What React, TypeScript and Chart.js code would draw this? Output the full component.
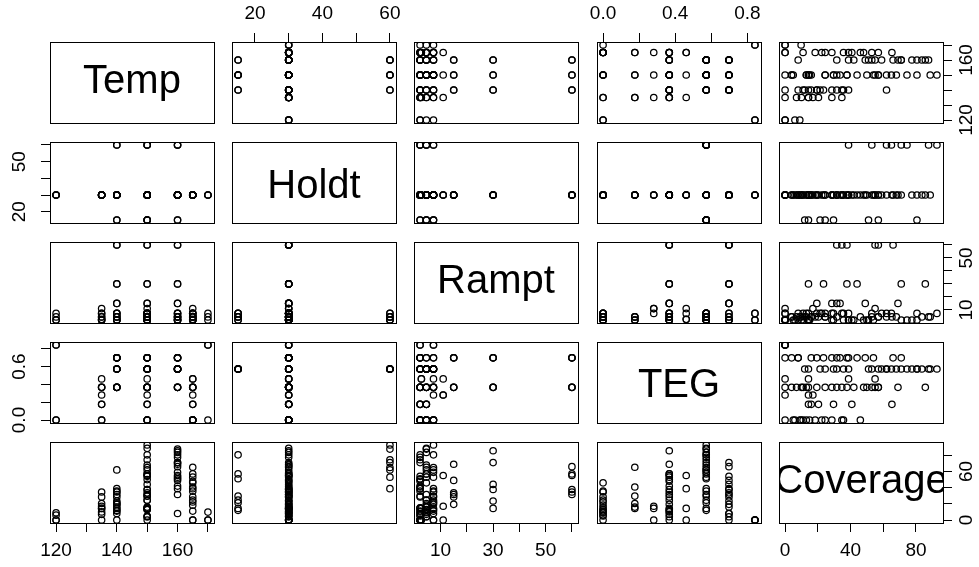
import React, { useEffect, useRef } from 'react';
import { Chart, registerables } from 'chart.js';

Chart.register(...registerables);

// ---------------- data ----------------
const variableNames = ['Temp', 'Holdt', 'Rampt', 'TEG', 'Coverage'];

const temp = [
  140, 140, 150, 150, 160, 160, 140, 140, 150, 150, 160, 160, 140, 140, 150, 150, 160, 160,
  165, 135, 150,
  140, 150, 140, 150, 150, 160, 150, 160,
  140, 160, 140, 150, 160, 150, 160, 150,
  160, 140, 160, 150, 160, 160, 150,
  150, 150, 160, 140, 140, 150, 160, 140,
  140, 135, 135, 150, 150, 165, 135, 160, 165, 165, 140,
  135, 165, 165,
  150,
  135, 150, 135, 150, 165, 165,
  120, 120, 170, 135, 135, 165, 165, 165, 165, 165, 150, 150, 150, 150, 165,
  165,
  120, 120, 170, 170,
  150, 150, 150,
];

const holdt = [
  30, 30, 30, 30, 30, 30, 30, 30, 30, 30, 30, 30, 30, 30, 30, 30, 30, 30,
  30, 30, 30,
  15, 15, 15, 15, 15, 15, 15, 15,
  60, 60, 60, 60, 60, 60, 60, 60,
  30, 30, 30, 30, 30, 30, 30,
  30, 30, 30, 30, 30, 30, 30, 30,
  30, 30, 30, 30, 30, 30, 30, 30, 30, 30, 30,
  30, 30, 30,
  30,
  30, 30, 30, 30, 30, 30,
  30, 30, 30, 30, 30, 30, 30, 30, 30, 30, 30, 30, 30, 30, 30,
  30,
  30, 30, 30, 30,
  30, 30, 30,
];

const rampt = [
  60, 60, 60, 60, 60, 60, 30, 30, 30, 30, 30, 30, 15, 15, 15, 15, 15, 15,
  11, 11, 11,
  4.6, 2.2, 7.3, 4.6, 7.3, 2.2, 4.6, 7.3,
  2.2, 4.6, 4.6, 7.3, 2.2, 2.2, 4.6, 7.3,
  4.6, 2.2, 7.3, 4.6, 2.2, 4.6, 7.3,
  2.2, 4.6, 7.3, 4.6, 7.3, 2.2, 2.2, 2.2,
  2.2, 4.6, 2.2, 7.3, 4.6, 4.6, 7.3, 2.2, 2.2, 7.3, 7.3,
  2.7, 7.3, 2.7,
  7.3,
  2.2, 4.6, 4.6, 2.2, 2.2, 4.6,
  2.2, 4.6, 4.6, 2.2, 7.3, 2.2, 4.6, 7.3, 2.2, 4.6, 2.2, 4.6, 7.3, 2.2, 7.3,
  4.6,
  2.2, 7.3, 2.2, 7.3,
  2.2, 4.6, 2.2,
];

const teg = [
  0.698, 0.367, 0.698, 0.367, 0.367, 0.698, 0.367, 0.698, 0.367, 0.698, 0.698, 0.367,
  0.367, 0.698, 0.367, 0.698, 0.698, 0.367,
  0.281, 0.281, 0.461,
  0.572, 0.572, 0.572, 0.572, 0.572, 0.572, 0.572, 0.572,
  0.572, 0.572, 0.572, 0.572, 0.572, 0.572, 0.572, 0.572,
  0.572, 0.572, 0.572, 0.572, 0.572, 0.572, 0.572,
  0.698, 0.698, 0.698, 0.698, 0.698, 0.698, 0.698, 0.698,
  0.367, 0.367, 0.367, 0.367, 0.367, 0.367, 0.367, 0.367, 0.367, 0.367, 0.367,
  0.461, 0.461, 0.461,
  0.281,
  0.176, 0.176, 0.176, 0.176, 0.176, 0.176,
  0, 0, 0, 0, 0, 0, 0, 0, 0, 0, 0, 0, 0, 0, 0,
  0.367,
  0.842, 0.842, 0.842, 0.842,
  0.572, 0.572, 0.367,
];

const coverage = [
  31.6, 34.7, 37.8, 57, 55, 66, 14.3, 23.5, 37.8, 44, 71, 85.7, 19.4, 28.6, 31.6, 33.6, 49, 69,
  0, 17, 55,
  12, 14.3, 21.4, 24.5, 29.6, 51, 57, 80.6,
  38.8, 53, 62, 65, 71, 74.5, 87.7, 92.8,
  31.6, 35.7, 59, 68, 77.5, 83.6, 62,
  0, 4, 8, 16, 19.4, 54, 38.8, 8,
  0, 7, 10, 13, 4, 24.5, 28.6, 42, 48, 53, 11,
  14.3, 38.8, 0,
  14.3,
  14.3, 16, 20.4, 29.6, 40.8, 65.3,
  6, 9, 9.8, 0, 34.7, 11, 18.4, 22.4, 28.6, 46, 5, 13, 24.5, 15, 35.7,
  57,
  0, 0, 0, 0,
  80.6, 88.7, 50,
];

const variables = [temp, holdt, rampt, teg, coverage];

// tick positions per variable
const tempTicks = [120, 130, 140, 150, 160, 170];
const holdtTicks = [20, 30, 40, 50, 60];
const ramptTicks = [10, 20, 30, 40, 50, 60];
const tegTicks = [0, 0.2, 0.4, 0.6, 0.8];
const coverageTicks = [0, 20, 40, 60, 80];
const tickValues = [tempTicks, holdtTicks, ramptTicks, tegTicks, coverageTicks];

// labelled ticks on horizontal (top/bottom) axes
const tempLabelsH = [120, 140, 160];
const holdtLabelsH = [20, 40, 60];
const ramptLabelsH = [10, 30, 50];
const tegLabelsH = [0, 0.4, 0.8];
const coverageLabelsH = [0, 40, 80];
const labelsH = [tempLabelsH, holdtLabelsH, ramptLabelsH, tegLabelsH, coverageLabelsH];

// labelled ticks on vertical (left/right) axes
const tempLabelsV = [120, 160];
const holdtLabelsV = [20, 50];
const ramptLabelsV = [10, 50];
const tegLabelsV = [0, 0.6];
const coverageLabelsV = [0, 60];
const labelsV = [tempLabelsV, holdtLabelsV, ramptLabelsV, tegLabelsV, coverageLabelsV];

const labelDecimals = [0, 0, 0, 1, 0];

// ---------------- layout / style ----------------
const FONT = '"Liberation Sans", Arial, Helvetica, sans-serif';
const TICK_SIZE = 19;
const LABEL_SIZE = 40;
const TICK_LEN = 9;
const M = 46;
const PW = 164;
const PH = 81;
const COL_LEFT = [50, 232, 414, 597, 779];
const ROW_TOP = [42, 142, 242, 342, 442];
const W = PW + 2 * M;
const H = PH + 2 * M;

function extendedRange(arr: number[]): [number, number] {
  const lo = Math.min(...arr);
  const hi = Math.max(...arr);
  const d = (hi - lo) * 0.04;
  return [lo - d, hi + d];
}

function fmt(v: number, dec: number) {
  return v.toFixed(dec);
}

let measureCtx: CanvasRenderingContext2D | null = null;
function textWidth(s: string) {
  if (!measureCtx) measureCtx = document.createElement('canvas').getContext('2d');
  measureCtx!.font = `${TICK_SIZE}px ${FONT}`;
  return measureCtx!.measureText(s).width;
}

function axisOptions(v: number, horizontal: boolean, position: string, show: boolean) {
  const [lo, hi] = extendedRange(variables[v]);
  const labels = horizontal ? labelsH[v] : labelsV[v];
  const dec = labelDecimals[v];
  let padding = 0;
  if (horizontal) {
    padding = position === 'top' ? 7.6 : 7.3;
  } else {
    const widest = Math.max(...labels.map((l) => textWidth(fmt(l, dec))));
    const target = position === 'left' ? 30 : 24;
    padding = target - TICK_LEN - widest / 2;
  }
  return {
    type: 'linear',
    position,
    display: show,
    min: lo,
    max: hi,
    afterBuildTicks: (scale: any) => {
      scale.ticks = tickValues[v].map((value) => ({ value }));
    },
    afterFit: (scale: any) => {
      if (horizontal) {
        scale.height = show ? M : 0;
      } else {
        scale.width = show ? M : 0;
      }
    },
    ticks: {
      autoSkip: false,
      color: '#000',
      font: { family: FONT, size: TICK_SIZE },
      padding,
      minRotation: horizontal ? 0 : 90,
      maxRotation: horizontal ? 0 : 90,
      crossAlign: horizontal ? 'near' : 'center',
      callback: (val: number) =>
        labels.some((l) => Math.abs(l - val) < 1e-9) ? fmt(val, dec) : '',
    },
    grid: {
      display: true,
      drawOnChartArea: false,
      drawTicks: true,
      tickLength: TICK_LEN,
      color: '#000',
      lineWidth: 1,
    },
    border: { display: false },
  };
}

const boxPlugin = {
  id: 'panelBox',
  afterDraw(chart: any) {
    const { ctx, chartArea: a } = chart;
    ctx.save();
    ctx.strokeStyle = '#000';
    ctx.lineWidth = 1;
    ctx.strokeRect(a.left + 0.5, a.top + 0.5, a.right - a.left, a.bottom - a.top);
    ctx.restore();
  },
};

function diagPlugin(text: string) {
  return {
    id: 'diagLabel',
    afterDatasetsDraw(chart: any) {
      const { ctx, chartArea: a } = chart;
      ctx.save();
      ctx.beginPath();
      ctx.rect(a.left, a.top, a.right - a.left, a.bottom - a.top);
      ctx.clip();
      ctx.font = `${LABEL_SIZE}px ${FONT}`;
      ctx.fillStyle = '#000';
      ctx.textAlign = 'center';
      ctx.textBaseline = 'alphabetic';
      const m = ctx.measureText(text);
      const cx = (a.left + a.right) / 2;
      const cy = (a.top + a.bottom) / 2;
      const y = cy + (m.actualBoundingBoxAscent - m.actualBoundingBoxDescent) / 2;
      ctx.fillText(text, cx, y);
      ctx.restore();
    },
  };
}

const panels: { i: number; j: number }[] = [];
for (let i = 0; i < 5; i++) for (let j = 0; j < 5; j++) panels.push({ i, j });

export default function App() {
  const refs = useRef<(HTMLCanvasElement | null)[]>([]);

  useEffect(() => {
    const charts: Chart[] = [];
    panels.forEach(({ i, j }, idx) => {
      const canvas = refs.current[idx];
      if (!canvas) return;
      const showTop = i === 0 && j % 2 === 1;
      const showBottom = i === 4 && j % 2 === 0;
      const showLeft = j === 0 && i % 2 === 1;
      const showRight = j === 4 && i % 2 === 0;
      const diag = i === j;
      const data = diag
        ? []
        : variables[j].map((x, k) => ({ x, y: variables[i][k] }));
      const cfg: any = {
        type: 'scatter',
        data: {
          datasets: [
            {
              data,
              showLine: false,
              pointStyle: 'circle',
              pointRadius: 3.2,
              pointHoverRadius: 3.2,
              pointBorderWidth: 1.25,
              borderWidth: 1.25,
              pointBorderColor: '#000',
              borderColor: '#000',
              pointBackgroundColor: 'rgba(0,0,0,0)',
              backgroundColor: 'rgba(0,0,0,0)',
            },
          ],
        },
        options: {
          animation: false,
          responsive: false,
          devicePixelRatio: 1,
          events: [],
          layout: {
            autoPadding: false,
            padding: {
              left: showLeft ? 0 : M,
              right: showRight ? 0 : M,
              top: showTop ? 0 : M,
              bottom: showBottom ? 0 : M,
            },
          },
          plugins: {
            legend: { display: false },
            tooltip: { enabled: false },
            title: { display: false },
          },
          scales: {
            x: axisOptions(j, true, showTop ? 'top' : 'bottom', showTop || showBottom),
            y: axisOptions(i, false, showRight ? 'right' : 'left', showLeft || showRight),
          },
        },
        plugins: diag ? [diagPlugin(variableNames[i]), boxPlugin] : [boxPlugin],
      };
      charts.push(new Chart(canvas, cfg));
    });
    return () => charts.forEach((c) => c.destroy());
  }, []);

  return (
    <div
      style={{
        position: 'fixed',
        left: 0,
        top: 0,
        width: 979,
        height: 567,
        overflow: 'hidden',
        background: '#fff',
      }}
    >
      {panels.map(({ i, j }, idx) => (
        <canvas
          key={`${i}-${j}`}
          ref={(el) => {
            refs.current[idx] = el;
          }}
          width={W}
          height={H}
          style={{
            position: 'absolute',
            left: COL_LEFT[j] - M,
            top: ROW_TOP[i] - M,
            width: W,
            height: H,
          }}
        />
      ))}
    </div>
  );
}
